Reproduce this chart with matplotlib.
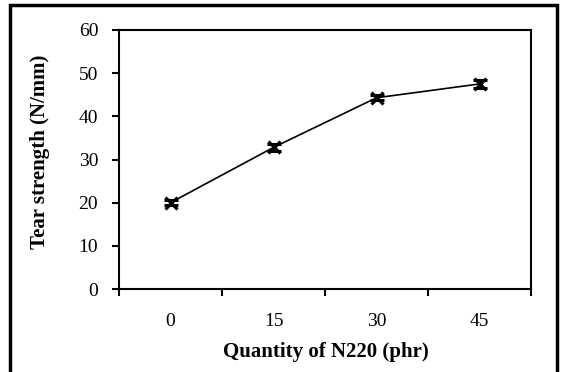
import matplotlib
matplotlib.use("Agg")
import matplotlib.pyplot as plt
from matplotlib.patches import Rectangle
from matplotlib.ticker import FixedLocator, NullFormatter

categories = ["0", "15", "30", "45"]
tear_strength = [20.0, 32.8, 44.3, 47.5]
errors = [0.6, 0.8, 0.6, 0.9]

plt.rcParams['font.family'] = ['Liberation Serif', 'DejaVu Serif']

fig = plt.figure(figsize=(5.64, 3.72), dpi=100)
W, H = 564, 372
ax = fig.add_axes([119 / W, 1 - 289 / H, (531 - 119) / W, (289 - 30) / H])

x = list(range(len(categories)))
ax.errorbar(x, tear_strength, yerr=errors, color='black', lw=1.2,
            marker='x', markersize=8, mew=2.2, capsize=5, capthick=2,
            elinewidth=1.5)

ax.set_xlim(-0.5, len(categories) - 0.5)
ax.set_ylim(0, 60)
ax.set_yticks([0, 10, 20, 30, 40, 50, 60])
ax.set_xticks(x)
ax.set_xticklabels(categories)
ax.xaxis.set_minor_locator(FixedLocator([i - 0.5 for i in range(len(categories) + 1)]))
ax.xaxis.set_minor_formatter(NullFormatter())
ax.tick_params(axis='x', which='major', length=0, labelsize=14, pad=17)
ax.tick_params(axis='x', which='minor', length=5, width=1.5, direction='out')
ax.tick_params(axis='y', length=5, width=1.5, direction='out', labelsize=14, pad=10)
for s in ax.spines.values():
    s.set_linewidth(1.5)

fig.text(326 / W, 1 - 352 / H, "Quantity of N220 (phr)", fontsize=15,
         fontweight='bold', ha='center', va='center')
fig.text(40 / W, 1 - 152 / H, "Tear strength (N/mm)", fontsize=15,
         fontweight='bold', ha='center', va='center', rotation=90)

fig.patches.append(Rectangle((10 / W, -0.1), (557 - 10) / W, 1 - 5 / H + 0.1,
                             transform=fig.transFigure, fill=False,
                             edgecolor='black', lw=2.5))

fig.savefig("out.png", dpi=100)
